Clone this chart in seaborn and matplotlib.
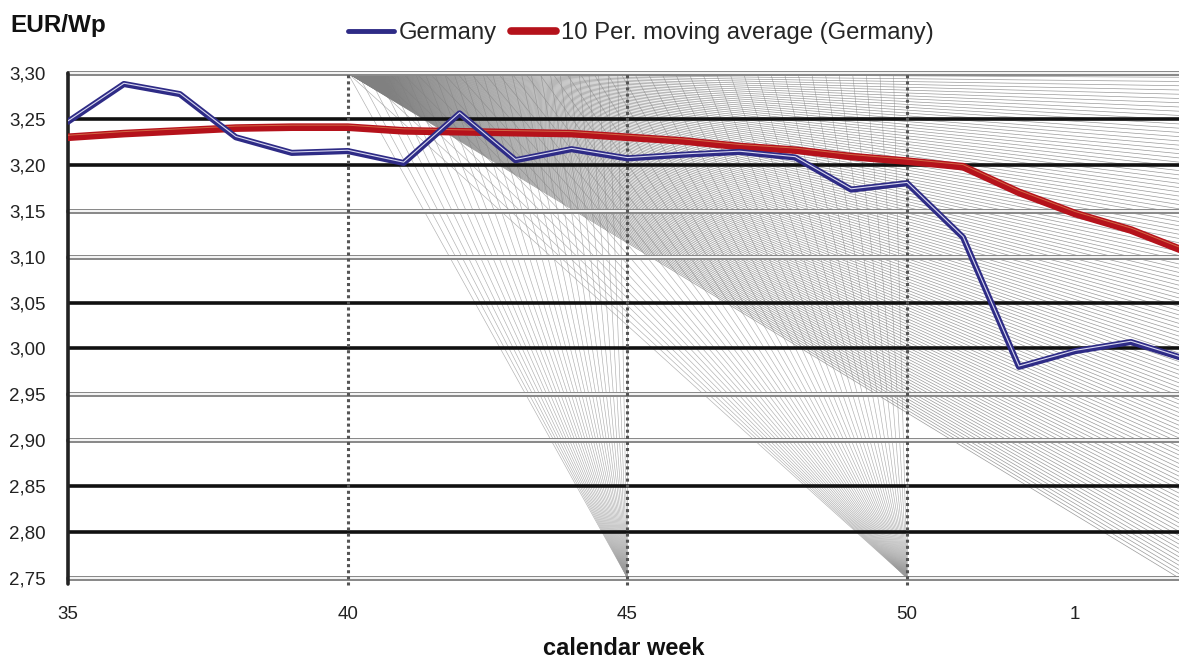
import numpy as np
import pandas as pd
import matplotlib
matplotlib.use("Agg")
import matplotlib.pyplot as plt
import seaborn as sns
from matplotlib.collections import LineCollection
from matplotlib.transforms import offset_copy
from matplotlib.lines import Line2D

# Calendar weeks across the turn of the year
weeks = [35, 36, 37, 38, 39, 40, 41, 42, 43, 44, 45, 46, 47, 48, 49, 50, 51, 52, 1, 2, 3]

# Module price, Germany (EUR/Wp)
germany = [3.247, 3.288, 3.277, 3.230, 3.213, 3.215, 3.202, 3.256, 3.205, 3.217,
           3.207, 3.211, 3.214, 3.208, 3.173, 3.180, 3.121, 2.980, 2.997, 3.007, 2.988]

# 10 period moving average (Germany)
moving_avg = [3.230, 3.234, 3.237, 3.240, 3.241, 3.241, 3.237, 3.236, 3.235, 3.234,
              3.230, 3.226, 3.220, 3.216, 3.209, 3.204, 3.198, 3.170, 3.147, 3.129, 3.105]

y_ticks = [2.75, 2.80, 2.85, 2.90, 2.95, 3.00, 3.05, 3.10, 3.15, 3.20, 3.25, 3.30]
labelled_weeks = [35, 40, 45, 50, 1]
marked_weeks = [40, 45, 50]
series_labels = ["Germany", "10 Per. moving average (Germany)"]

df = pd.DataFrame({
    "pos": np.arange(len(weeks)),
    "week": weeks,
    "germany": germany,
    "moving_avg": moving_avg,
})

sns.set_style("white")
plt.rcParams["font.family"] = ["Liberation Sans", "DejaVu Sans"]

W, H = 1179, 659
fig = plt.figure(figsize=(W / 100, H / 100), dpi=100)
ax = fig.add_axes([68 / W, 1 - 578 / H, 1 - 68 / W, 505 / H])

x_right = 19.86
y_bot, y_top = y_ticks[0], y_ticks[-1]
ax.set_xlim(0, x_right)
ax.set_ylim(y_bot, y_top)
for s in ax.spines.values():
    s.set_visible(False)

# Decorative string-art fan spreading from the top of week 40
x40 = weeks.index(40)
x45 = weeks.index(45)
x50 = weeks.index(50)
segs = []
for xt in np.linspace(x40, x45, 30):
    segs.append([(xt, y_top), (x45, y_bot)])
for xt in np.linspace(x40, x50, 42):
    segs.append([(xt, y_top), (x50, y_bot)])
fan_bands = LineCollection(segs, colors="#9a9a9a", linewidths=0.45, alpha=0.8, zorder=1)
ax.add_collection(fan_bands)
rays = [[(x40, y_top), (x_right, yr)] for yr in np.linspace(y_bot, y_top, 120)]
fan_rays = LineCollection(rays, colors="#808080", linewidths=0.5, alpha=0.8, zorder=1)
ax.add_collection(fan_rays)

# Horizontal gridlines: solid black and hollow grey pairs
for i, v in enumerate(y_ticks):
    if i % 4 in (1, 2):
        ax.axhline(v, color="#111111", lw=2.6, zorder=2)
    else:
        ax.axhline(v, color="#8a8a8a", lw=3.6, zorder=2, clip_on=False)
        ax.axhline(v, color="white", lw=1.3, zorder=2.1, clip_on=False)

# Dotted verticals at selected weeks and the value axis line
for w in marked_weeks:
    ax.axvline(weeks.index(w), ymin=-0.014, ymax=1, color="#555555", lw=2.2,
               ls=(0, (1, 1)), zorder=3, clip_on=False)
ax.axvline(0, ymin=-0.012, ymax=1, color="#222222", lw=2.6, zorder=3, clip_on=False)

# Data lines
navy = "#2e2b86"
red = "#b5121b"
sns.lineplot(data=df, x="pos", y="germany", color=navy, lw=4.4, ax=ax,
             zorder=5, legend=False, sort=False)
ax.plot(df["pos"], df["germany"], color="#d8d8f0", lw=0.8, zorder=5.1,
        transform=offset_copy(ax.transData, fig=fig, x=0, y=0.8, units="dots"))
sns.lineplot(data=df, x="pos", y="moving_avg", color=red, lw=5.5, ax=ax,
             zorder=4, legend=False, sort=False, solid_capstyle="round")
ax.plot(df["pos"], df["moving_avg"], color="#e6a060", lw=0.7, alpha=0.6, zorder=4.1,
        transform=offset_copy(ax.transData, fig=fig, x=0, y=2.0, units="dots"))

# Axes ticks and labels
ax.set_yticks(y_ticks)
ax.set_yticklabels([f"{v:.2f}".replace(".", ",") for v in y_ticks])
ax.tick_params(axis="y", length=6, width=1.5, color="#555555", pad=10,
               labelsize=13.5, labelcolor="#222222")
ax.set_xticks([weeks.index(w) for w in labelled_weeks])
ax.set_xticklabels([str(w) for w in labelled_weeks])
ax.tick_params(axis="x", length=0, pad=20, labelsize=13.5, labelcolor="#222222")
ax.set_xlabel("")
ax.set_ylabel("")

fig.text(10 / W, 1 - 32 / H, "EUR/Wp", fontsize=17.5, fontweight="bold",
         ha="left", va="baseline", color="#111111")
fig.text((68 + W) / 2 / W, 1 - 655 / H, "calendar week", fontsize=17,
         fontweight="bold", ha="center", va="baseline", color="#111111")

handles = [Line2D([], [], color=navy, lw=3.5),
           Line2D([], [], color=red, lw=5.5, solid_capstyle="round")]
fig.legend(handles, series_labels, loc="center", bbox_to_anchor=(641 / W, 1 - 33 / H),
           ncol=2, frameon=False, fontsize=17.2, handlelength=1.9, handletextpad=0.2,
           columnspacing=0.6, borderpad=0, borderaxespad=0)

fig.savefig("out.png", dpi=100)
